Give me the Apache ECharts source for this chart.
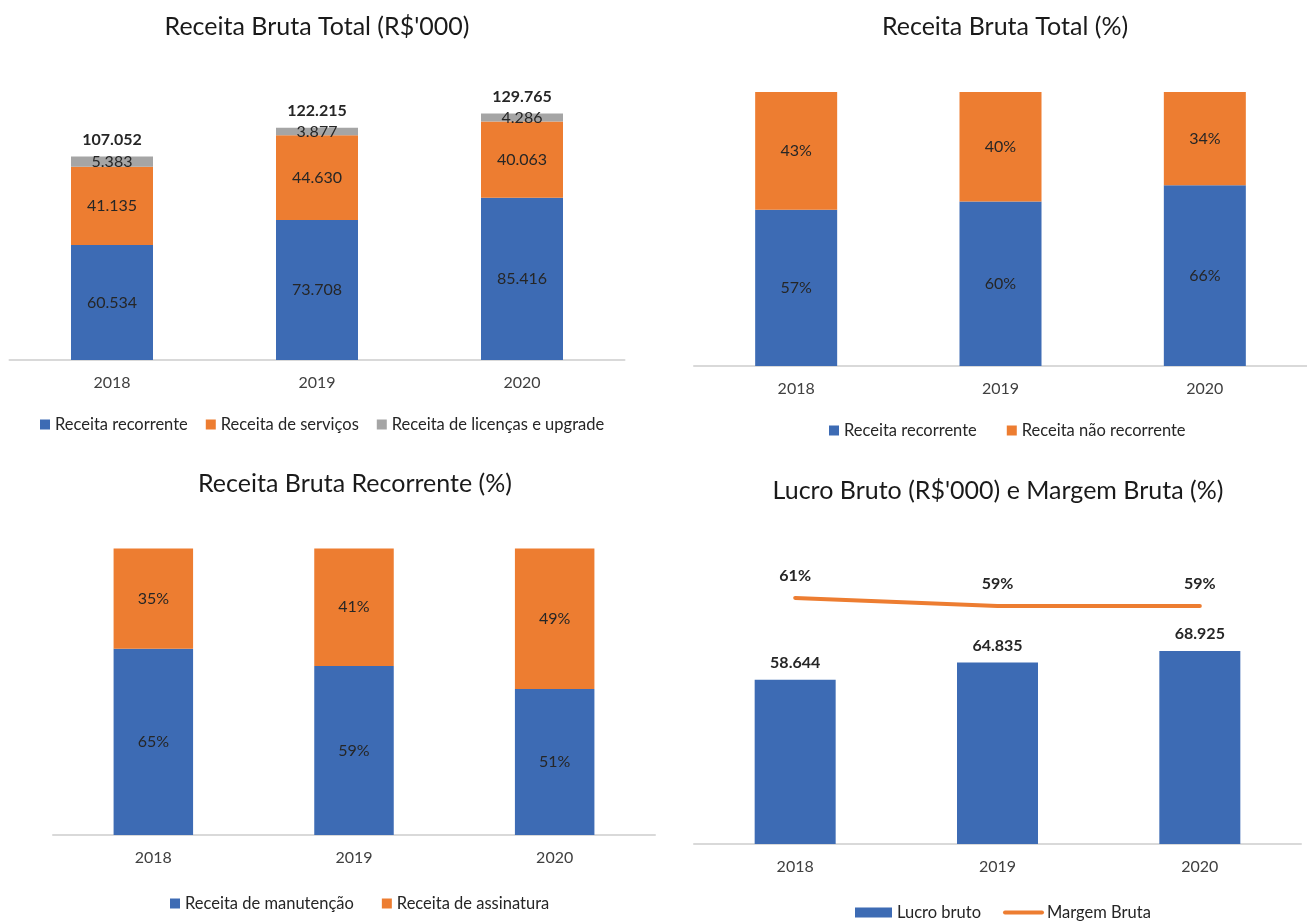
<!DOCTYPE html>
<html>
<head>
<meta charset="utf-8">
<script src="https://cdn.jsdelivr.net/npm/echarts@6/dist/echarts.min.js"></script>
<style>
html,body{margin:0;padding:0;background:#fff;}
#c{width:1307px;height:921px;}
</style>
</head>
<body>
<div id="c"></div>
<script>
// ---- Data ----
const years = ['2018', '2019', '2020'];
// Panel 1: Receita Bruta Total (R$'000)
const receitaRecorrente = [60534, 73708, 85416];
const receitaServicos = [41135, 44630, 40063];
const receitaLicencas = [5383, 3877, 4286];
const receitaTotal = [107052, 122215, 129765];
// Panel 2: Receita Bruta Total (%)
const pctRecorrente = [57, 60, 66];
const pctNaoRecorrente = [43, 40, 34];
// Panel 3: Receita Bruta Recorrente (%)
const pctManutencao = [65, 59, 51];
const pctAssinatura = [35, 41, 49];
// Panel 4: Lucro Bruto (R$'000) e Margem Bruta (%)
const lucroBruto = [58644, 64835, 68925];
const margemBruta = [61, 59, 59];

const BLUE = '#3D6BB4', ORANGE = '#ED7D31', GREY = '#A5A5A5';
const FONT = 'Lato, "Open Sans", sans-serif';
const TXT = '#262626';
const FS = 16;

function fmt(v) { return String(v).replace(/\B(?=(\d{3})+(?!\d))/g, '.'); }

const chart = echarts.init(document.getElementById('c'), null, {renderer: 'canvas'});

const grids = [
  {left: 9.5, top: 75, width: 615, height: 285},
  {left: 694, top: 92, width: 624, height: 274},
  {left: 53, top: 548.5, width: 602, height: 286.5},
  {left: 694, top: 564, width: 607, height: 280}
];

function xAx(i) {
  return {
    type: 'category', gridIndex: i, data: years,
    axisLine: {lineStyle: {color: '#D9D9D9', width: 2}},
    axisTick: {show: false},
    axisLabel: {fontSize: FS, color: '#404040', margin: 15, fontFamily: FONT}
  };
}
function yAx(i, max) {
  return {type: 'value', gridIndex: i, min: 0, max: max, show: false, splitLine: {show: false}};
}

const inLabel = {show: true, position: 'inside', fontSize: FS, color: TXT, fontFamily: FONT};

function titleAt(text, cx, top) {
  return {text: text, left: cx, top: top, textAlign: 'center', padding: 0,
    textStyle: {fontSize: 25, fontWeight: 'normal', color: '#1a1a1a', fontFamily: FONT}};
}

const legText = {fontSize: 16.5, color: TXT, fontFamily: FONT};

const option = {
  backgroundColor: '#fff',
  animation: false,
  title: [
    titleAt("Receita Bruta Total (R$'000)", 317, 14),
    titleAt('Receita Bruta Total (%)', 1005, 14),
    titleAt('Receita Bruta Recorrente (%)', 355, 471),
    titleAt("Lucro Bruto (R$'000) e Margem Bruta (%)", 998, 478)
  ],
  grid: grids,
  xAxis: [xAx(0), xAx(1), xAx(2), xAx(3)],
  yAxis: [yAx(0, 150000), yAx(1, 100), yAx(2, 100), yAx(3, 100000), yAx(3, 69.4)],
  legend: [
    {left: 40, top: 416, padding: 0, itemWidth: 10, itemHeight: 10, itemGap: 18, icon: 'rect', textStyle: legText,
      data: ['Receita recorrente', 'Receita de serviços', 'Receita de licenças e upgrade']},
    {left: 829, top: 422, padding: 0, itemWidth: 10, itemHeight: 10, itemGap: 30, icon: 'rect', textStyle: legText,
      data: ['Receita recorrente', 'Receita não recorrente']},
    {left: 170, top: 895, padding: 0, itemWidth: 10, itemHeight: 10, itemGap: 28, icon: 'rect', textStyle: legText,
      data: ['Receita de manutenção', 'Receita de assinatura']},
    {left: 855, top: 904, padding: 0, itemWidth: 37, itemHeight: 10, itemGap: 22, textStyle: legText,
      data: [{name: 'Lucro bruto', icon: 'rect'},
             {name: 'Margem Bruta', itemStyle: {opacity: 0}, lineStyle: {width: 4, color: ORANGE, cap: 'round'}}]}
  ],
  series: [
    // Panel 1
    {name: 'Receita recorrente', type: 'bar', stack: 'p1', xAxisIndex: 0, yAxisIndex: 0, barWidth: 82,
      itemStyle: {color: BLUE}, label: Object.assign({}, inLabel, {formatter: p => fmt(p.value)}), data: receitaRecorrente},
    {name: 'Receita de serviços', type: 'bar', stack: 'p1', xAxisIndex: 0, yAxisIndex: 0, barWidth: 82,
      itemStyle: {color: ORANGE}, label: Object.assign({}, inLabel, {formatter: p => fmt(p.value)}), data: receitaServicos},
    {name: 'Receita de licenças e upgrade', type: 'bar', stack: 'p1', xAxisIndex: 0, yAxisIndex: 0, barWidth: 82,
      itemStyle: {color: GREY}, label: Object.assign({}, inLabel, {formatter: p => fmt(p.value)}), data: receitaLicencas},
    {name: 'total', type: 'bar', stack: 'p1', xAxisIndex: 0, yAxisIndex: 0, barWidth: 82,
      itemStyle: {color: 'transparent'}, silent: true, tooltip: {show: false},
      label: {show: true, position: 'top', distance: 9, fontSize: FS, fontWeight: 'bold', color: TXT, fontFamily: FONT,
        formatter: p => fmt(receitaTotal[p.dataIndex])},
      data: years.map(() => 0)},
    // Panel 2
    {name: 'Receita recorrente', type: 'bar', stack: 'p2', xAxisIndex: 1, yAxisIndex: 1, barWidth: 82,
      itemStyle: {color: BLUE}, label: Object.assign({}, inLabel, {formatter: '{c}%'}), data: pctRecorrente},
    {name: 'Receita não recorrente', type: 'bar', stack: 'p2', xAxisIndex: 1, yAxisIndex: 1, barWidth: 82,
      itemStyle: {color: ORANGE}, label: Object.assign({}, inLabel, {formatter: '{c}%'}), data: pctNaoRecorrente},
    // Panel 3
    {name: 'Receita de manutenção', type: 'bar', stack: 'p3', xAxisIndex: 2, yAxisIndex: 2, barWidth: 79.5,
      itemStyle: {color: BLUE}, label: Object.assign({}, inLabel, {formatter: '{c}%'}), data: pctManutencao},
    {name: 'Receita de assinatura', type: 'bar', stack: 'p3', xAxisIndex: 2, yAxisIndex: 2, barWidth: 79.5,
      itemStyle: {color: ORANGE}, label: Object.assign({}, inLabel, {formatter: '{c}%'}), data: pctAssinatura},
    // Panel 4
    {name: 'Lucro bruto', type: 'bar', xAxisIndex: 3, yAxisIndex: 3, barWidth: 81,
      itemStyle: {color: BLUE},
      label: {show: true, position: 'top', distance: 9, fontSize: FS, fontWeight: 'bold', color: TXT, fontFamily: FONT,
        formatter: p => fmt(p.value)},
      data: lucroBruto},
    {name: 'Margem Bruta', type: 'line', xAxisIndex: 3, yAxisIndex: 4, symbol: 'circle', symbolSize: 0.1, showSymbol: true,
      lineStyle: {color: ORANGE, width: 4, cap: 'round'}, itemStyle: {color: ORANGE},
      label: {show: true, position: 'top', distance: 14, fontSize: FS, fontWeight: 'bold', color: TXT, fontFamily: FONT,
        formatter: '{c}%'},
      labelLayout: {hideOverlap: false},
      data: margemBruta}
  ]
};
chart.setOption(option);
</script>
</body>
</html>
